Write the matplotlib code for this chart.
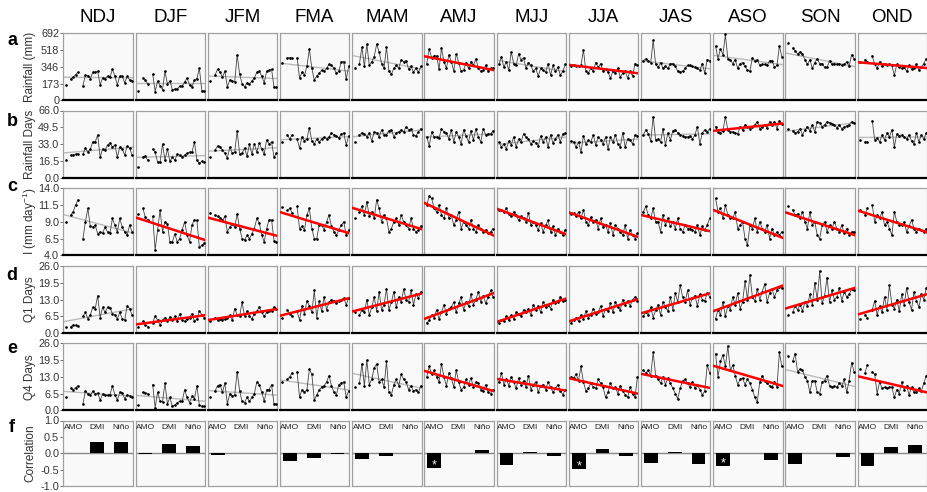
import numpy as np
import matplotlib.pyplot as plt

plt.rcParams['font.family'] = ['Liberation Sans', 'DejaVu Sans']
plt.rcParams['mathtext.fontset'] = 'custom'
plt.rcParams['mathtext.rm'] = 'Liberation Sans'
plt.rcParams['mathtext.it'] = 'Liberation Sans:italic'

seasons = ['NDJ', 'DJF', 'JFM', 'FMA', 'MAM', 'AMJ', 'MJJ', 'JJA', 'JAS', 'ASO', 'SON', 'OND']
first_year = 1985

# a: seasonal rainfall (mm)
rain_mm = [
    [160, None, 215, 240, 265, 290, None, 150, 260, 255, 225, 290, 290, 300, 160, 230, 225, 250, 240, 320, 250, 160, 250, 250, 180, 250, 210, 200],
    [100, None, 230, 210, 170, None, 270, 90, 200, 150, 110, 300, 170, 200, 110, 115, 120, 145, 145, 190, 230, 160, 140, 210, 225, 330, 100, 95],
    [200, None, 260, 320, 290, 240, 300, 140, 210, 200, 190, 470, 270, 170, 140, 180, 170, 200, 230, 290, 300, 250, 180, 300, 310, 320, 135, 140],
    [385, None, 440, 440, 435, None, 440, 230, 290, 260, 350, 530, 330, 210, 250, 280, 310, 300, 330, 370, 360, 330, 280, 300, 400, 400, 220, 350],
    [330, None, 380, 550, 350, 580, 360, 400, 450, 580, 500, 380, 330, 550, 300, 270, 330, 360, 330, 420, 400, 410, 320, 350, 290, 330, 290, 350],
    [380, 530, 440, 460, 460, 320, 540, 400, 330, 470, 400, 300, 480, 390, 300, 310, 390, 330, 400, 360, 430, 330, 300, 310, 360, 300, 330, 330],
    [370, 450, 340, 400, 310, 500, 380, 360, 480, 420, 440, 330, 390, 360, 300, 330, 250, 330, 310, 290, 380, 260, 360, 300, 340, 260, 300, 370],
    [350, 360, 350, 350, 360, 520, 300, 280, 330, 300, 390, 340, 380, 300, 320, 290, 230, 300, 280, 330, 240, 280, 300, 230, 300, 250, 380, 360],
    [410, 430, 410, 390, 620, 370, 340, 390, 330, 350, 330, 380, 380, 350, 300, 290, 300, 330, 360, 360, 350, 340, 330, 310, 380, 280, 420, 410],
    [560, 430, 530, 470, 680, 430, 420, 380, 420, 330, 380, 390, 350, 310, 300, 440, 410, 420, 360, 370, 370, 360, 410, 410, 340, 360, 560, 450],
    [590, None, 540, 510, 480, 500, 480, 420, 370, 420, 330, 390, 430, 380, 380, 340, 340, 410, 370, 380, 370, 380, 360, 370, 400, 350, 470, 430],
    [400, None, 420, 400, None, 460, 370, 330, 400, 350, 380, 360, 370, 360, 260, 370, 340, 330, 340, 300, 360, 320, 330, 370, 310, 340, 380, 430],
]

# b: rainfall days
rain_days = [
    [17, None, 22, 22, 23, 23, None, 23, 29, 25, 28, 35, 35, 42, 20, 28, 27, 32, 34, 30, 32, 20, 30, 28, 22, 31, 29, 22],
    [10, None, 20, 21, 17, None, 28, 25, 15, 15, 33, 17, 28, 16, 20, 17, 23, 22, 20, 22, 24, 25, 25, 35, 17, 14, 16, 15],
    [20, None, 27, 31, 30, 27, 24, 19, 30, 24, 25, 46, 23, 24, 29, 21, 33, 23, 33, 25, 34, 28, 23, 37, 33, 35, 20, 24],
    [35, None, 42, 38, 42, None, 38, 29, 40, 36, 38, 49, 36, 33, 38, 35, 38, 40, 38, 40, 44, 42, 41, 39, 43, 44, 32, 41],
    [35, None, 42, 44, 43, 40, 44, 36, 45, 44, 40, 47, 42, 42, 46, 47, 40, 44, 45, 47, 45, 50, 47, 48, 42, 41, 45, 48],
    [40, 31, 45, 40, 40, 39, 48, 45, 44, 38, 47, 35, 45, 40, 33, 47, 41, 35, 46, 37, 48, 40, 35, 48, 42, 43, 43, 46],
    [35, 30, 33, 28, 36, 32, 40, 30, 38, 35, 43, 40, 38, 33, 36, 34, 31, 41, 35, 40, 30, 42, 34, 38, 42, 35, 43, 44],
    [36, 35, 30, 35, 25, 41, 33, 37, 35, 42, 32, 40, 37, 33, 40, 28, 40, 35, 42, 33, 30, 44, 30, 38, 37, 33, 42, 41],
    [42, 47, 43, 36, 60, 37, 38, 35, 48, 32, 44, 37, 46, 47, 44, 42, 41, 40, 40, 41, 38, 42, 50, 33, 44, 47, 45, 48],
    [50, 45, 44, 46, 60, 47, 45, 45, 44, 43, 50, 47, 52, 50, 48, 50, 52, 55, 48, 50, 52, 49, 55, 52, 55, 48, 56, 53],
    [48, None, 46, 44, 45, 48, 42, 47, 50, 46, 52, 45, 55, 54, 50, 52, 55, 54, 53, 52, 49, 52, 48, 50, 51, 52, 55, 54],
    [37, None, 35, 35, None, 56, 37, 39, 35, 42, 37, 44, 40, 47, 30, 43, 41, 42, 40, 38, 42, 36, 33, 44, 35, 42, 38, 44],
]

# c: rainfall intensity (mm/day)
intensity = [
    [9.0, None, 10.0, 10.5, 11.5, 12.3, None, 6.5, 9.0, 11.0, 8.3, 8.2, 8.5, 7.2, 7.5, 7.3, 8.2, 7.5, 7.3, 9.5, 8.5, 7.5, 9.5, 8.2, 7.5, 7.0, 8.5, 7.5],
    [10.2, None, 11.0, 9.7, 9.3, None, 9.8, 4.8, 7.8, 10.7, 7.5, 9.0, 8.7, 6.0, 6.0, 7.2, 6.0, 6.5, 7.8, 9.0, 7.0, 6.0, 8.5, 9.3, 9.2, 5.2, 5.5, 5.8],
    [10.3, None, 10.0, 9.8, 9.5, 9.2, 9.8, 7.5, 8.2, 8.7, 8.2, 10.2, 8.0, 6.5, 6.3, 7.0, 6.5, 7.2, 8.0, 9.5, 8.8, 7.0, 6.0, 8.0, 9.3, 9.3, 6.2, 6.0],
    [11.2, None, 10.7, 11.0, 10.3, None, 11.3, 8.0, 8.3, 7.8, 10.0, 11.0, 8.0, 6.5, 6.5, 8.5, 8.5, 7.8, 9.0, 10.0, 8.3, 7.5, 7.0, 7.8, 8.5, 9.0, 7.0, 7.8],
    [9.5, None, 10.5, 11.3, 10.0, 12.0, 9.8, 10.5, 9.5, 12.3, 11.0, 9.0, 10.0, 9.5, 7.5, 8.0, 9.0, 9.5, 8.5, 10.0, 9.0, 8.5, 8.0, 9.5, 8.0, 7.5, 7.8, 8.3],
    [11.5, 12.8, 12.5, 11.0, 10.5, 11.5, 10.0, 9.5, 11.0, 9.5, 10.0, 8.5, 9.3, 10.5, 8.0, 9.0, 8.5, 8.0, 9.3, 8.0, 7.5, 8.5, 8.0, 7.5, 7.8, 7.3, 7.5, 8.0],
    [10.7, 10.8, 10.5, 11.0, 10.2, 9.8, 10.5, 10.0, 9.2, 9.8, 9.5, 9.0, 10.3, 8.5, 9.0, 8.5, 7.8, 8.8, 7.5, 8.5, 9.2, 7.5, 8.3, 7.0, 8.0, 7.5, 7.0, 7.8],
    [10.2, 10.3, 9.8, 10.5, 9.5, 10.8, 9.0, 8.5, 9.7, 9.0, 9.3, 8.0, 9.5, 8.2, 8.5, 7.5, 8.8, 7.0, 8.5, 8.0, 7.5, 7.0, 8.5, 6.5, 7.8, 7.0, 6.5, 7.3],
    [10.5, 11.3, 10.0, 9.5, 11.0, 9.0, 9.0, 7.5, 10.0, 8.5, 9.5, 8.3, 9.0, 8.0, 9.5, 8.0, 7.5, 8.5, 8.0, 8.0, 7.8, 7.5, 8.5, 7.0, 8.3, 7.8, 8.5, 9.5],
    [12.5, 10.5, 11.0, 9.5, 11.5, 10.0, 9.5, 9.5, 10.5, 8.0, 8.5, 9.0, 6.5, 5.5, 8.5, 8.0, 9.5, 7.5, 9.0, 8.0, 7.5, 8.5, 6.5, 8.0, 7.0, 7.5, 7.0, 7.5],
    [11.3, None, 10.8, 10.0, 10.2, 9.5, 10.5, 9.0, 8.0, 10.5, 8.5, 9.0, 7.0, 6.5, 8.5, 9.0, 7.5, 8.5, 8.0, 9.0, 8.0, 7.5, 8.5, 7.3, 8.0, 7.0, 7.5, 7.5],
    [10.7, None, 10.0, 11.0, None, 11.5, 9.0, 10.0, 9.5, 10.5, 8.5, 9.0, 8.0, 7.0, 10.5, 9.0, 8.5, 8.5, 9.0, 7.5, 8.3, 9.3, 8.0, 7.5, 8.0, 7.8, 7.5, 8.0],
]

# d: Q1 days
q1_days = [
    [2.5, None, 2.5, 3.0, 3.0, 2.7, None, 6.5, 8.0, 5.5, 7.0, 10.0, 9.5, 14.5, 6.0, 10.0, 8.0, 10.0, 9.8, 7.5, 7.0, 5.5, 8.0, 5.5, 5.0, 10.5, 9.5, 7.0],
    [2.5, None, 4.5, 3.2, 2.5, None, 4.0, 6.5, 5.0, 3.0, 5.0, 6.0, 4.5, 6.3, 5.0, 6.5, 4.5, 7.5, 5.0, 4.5, 5.5, 6.0, 7.5, 4.5, 5.5, 8.5, 7.0, 6.0],
    [4.5, None, 6.0, 5.0, 5.5, 5.0, 5.5, 6.0, 7.0, 5.0, 9.5, 7.0, 6.5, 12.0, 6.5, 8.5, 6.5, 5.5, 7.5, 8.5, 10.0, 8.0, 6.5, 8.0, 8.5, 8.5, 10.0, 9.5],
    [6.0, None, 9.0, 7.5, 6.5, None, 8.5, 5.0, 10.5, 7.5, 12.5, 10.5, 8.0, 16.5, 6.0, 12.5, 8.5, 14.0, 9.0, 12.0, 13.0, 12.5, 11.5, 12.5, 13.0, 13.5, 11.0, 13.5],
    [8.0, None, 7.0, 9.0, 8.0, 13.0, 7.0, 10.0, 14.0, 8.5, 16.0, 9.0, 11.0, 17.0, 9.0, 12.0, 16.0, 10.0, 14.0, 12.0, 17.0, 13.0, 12.0, 16.5, 11.0, 15.0, 13.5, 16.0],
    [4.0, 5.0, 7.0, 6.0, 9.0, 5.5, 8.0, 11.0, 7.5, 9.5, 10.0, 12.0, 8.0, 11.5, 14.0, 9.0, 12.0, 10.5, 15.0, 11.0, 13.0, 16.0, 12.0, 14.5, 11.5, 14.0, 16.5, 14.0],
    [4.0, 5.0, 4.5, 6.5, 5.0, 7.0, 5.5, 8.0, 7.5, 6.5, 9.0, 8.0, 9.5, 7.0, 11.0, 9.0, 10.5, 8.0, 12.0, 10.0, 11.0, 9.5, 13.0, 11.5, 12.0, 14.0, 12.5, 13.0],
    [4.0, 5.0, 6.0, 4.5, 7.0, 5.5, 8.5, 6.0, 7.0, 9.5, 7.5, 8.0, 10.5, 6.5, 9.5, 8.5, 11.5, 8.0, 12.0, 10.0, 9.0, 13.0, 11.0, 12.5, 10.5, 13.0, 14.0, 12.5],
    [6.5, 8.0, 7.0, 10.0, 6.0, 9.0, 11.0, 7.0, 12.0, 10.0, 8.5, 14.0, 9.0, 15.5, 12.0, 18.5, 14.0, 12.0, 16.5, 11.0, 13.5, 14.5, 10.5, 15.0, 13.0, 12.5, 15.5, 14.0],
    [5.5, 9.0, 7.0, 12.0, 6.5, 10.5, 9.0, 14.0, 11.0, 15.5, 9.5, 12.0, 20.0, 13.0, 22.5, 14.0, 12.5, 17.0, 13.0, 16.0, 19.0, 12.0, 15.5, 17.0, 14.0, 16.5, 18.0, 17.5],
    [7.0, None, 8.0, 10.5, 9.0, 11.0, 8.5, 12.0, 10.5, 15.0, 11.0, 19.5, 13.0, 24.0, 11.5, 14.5, 21.5, 12.0, 16.5, 13.0, 14.0, 17.5, 12.5, 16.0, 14.0, 15.0, 17.0, 16.5],
    [5.5, None, 7.0, 6.0, None, 9.0, 12.5, 7.0, 10.5, 8.0, 14.0, 9.0, 18.5, 11.0, 9.5, 13.0, 8.5, 15.0, 11.0, 17.5, 12.0, 9.0, 16.0, 12.5, 10.0, 15.0, 13.0, 17.5],
]

# e: Q4 days
q4_days = [
    [5.0, None, 8.5, 8.0, 8.8, 9.5, None, 2.5, 7.5, 6.3, 6.0, 7.3, 6.5, 6.7, 4.0, 6.2, 5.8, 5.8, 6.0, 9.5, 6.0, 4.0, 7.0, 6.8, 4.5, 6.0, 5.5, 5.0],
    [2.0, None, 7.0, 6.8, 6.5, None, 10.0, 1.0, 7.0, 3.5, 3.3, 10.5, 2.5, 5.0, 1.5, 2.0, 3.0, 3.5, 3.5, 8.0, 5.0, 3.0, 5.5, 4.5, 9.5, 2.0, 1.5, 1.5],
    [5.0, None, 7.5, 9.5, 10.0, 7.0, 10.5, 2.5, 6.5, 5.5, 6.0, 15.0, 7.5, 3.5, 3.0, 5.0, 3.5, 5.0, 6.5, 11.0, 10.0, 7.0, 3.5, 8.0, 8.0, 10.0, 2.5, 2.5],
    [11.0, None, 12.0, 13.0, 14.5, None, 15.0, 5.0, 8.0, 7.0, 8.0, 16.0, 14.0, 4.0, 6.0, 8.0, 9.0, 9.5, 11.0, 13.5, 9.5, 7.0, 6.0, 10.0, 10.5, 11.0, 5.0, 7.5],
    [9.0, None, 10.5, 18.0, 9.5, 19.5, 10.0, 12.0, 16.5, 18.0, 11.0, 12.0, 9.0, 19.0, 7.0, 6.0, 10.0, 12.0, 9.5, 14.0, 12.0, 11.0, 8.0, 9.5, 7.5, 8.0, 7.0, 9.5],
    [13.0, 17.0, 14.0, 15.5, 13.0, 11.0, 18.0, 13.0, 9.5, 14.5, 12.5, 9.0, 15.5, 11.0, 8.0, 9.0, 12.0, 10.0, 12.5, 9.0, 11.0, 10.5, 8.0, 7.5, 10.0, 7.0, 6.5, 8.0],
    [11.0, 14.5, 10.0, 12.0, 9.5, 13.0, 11.0, 8.5, 12.5, 10.0, 11.5, 9.0, 13.5, 8.0, 10.0, 11.0, 7.0, 9.5, 10.0, 8.0, 11.0, 9.0, 7.0, 8.5, 10.0, 7.5, 6.0, 8.0],
    [13.0, 12.5, 14.0, 11.5, 17.0, 11.0, 7.5, 8.5, 10.5, 9.0, 8.5, 12.0, 10.5, 9.0, 5.0, 7.0, 10.5, 8.5, 9.0, 6.5, 9.5, 7.5, 6.0, 5.0, 9.0, 6.5, 5.0, 13.0],
    [15.5, 14.5, 15.5, 13.5, 22.5, 13.5, 12.0, 10.5, 13.0, 10.0, 12.5, 10.5, 8.5, 6.5, 4.5, 8.5, 11.5, 12.0, 10.5, 9.0, 11.0, 8.5, 10.0, 8.0, 6.0, 7.5, 17.5, 14.5],
    [22.0, 13.0, 19.0, 21.5, 17.0, 25.0, 15.5, 17.5, 13.5, 10.0, 12.0, 12.5, 10.0, 12.0, 10.5, 8.0, 5.0, 3.3, 11.0, 13.5, 11.5, 10.5, 9.5, 9.0, 11.0, 9.0, 22.5, 17.0],
    [21.0, None, 19.0, 22.0, 15.0, 16.0, 15.5, 13.0, 11.5, 7.0, 11.5, 11.5, 7.0, 6.5, 11.0, 11.5, 13.5, 9.5, 9.0, 9.5, 9.0, 10.5, 9.5, 12.0, 7.0, 11.5, 18.5, 15.0],
    [16.0, None, 14.5, 17.5, None, 15.0, 14.0, 6.5, 11.0, 8.5, 9.0, 8.5, 9.0, 9.0, 5.0, 8.0, 6.5, 11.0, 8.0, 9.5, 6.0, 9.0, 7.0, 7.0, 8.5, 7.5, 10.5, 13.5],
]

# seasons whose linear trend is significant (drawn red)
sig_rain_mm = ['AMJ', 'JJA', 'OND']
sig_rain_days = ['ASO']
sig_intensity = seasons[1:]
sig_q1 = seasons[1:]
sig_q4 = ['AMJ', 'MJJ', 'JJA', 'JAS', 'ASO', 'OND']

# f: correlation with climate indices
indices = ['AMO', 'DMI', 'Niño']
corr_amo = [0.02, -0.02, -0.05, -0.24, -0.18, -0.45, -0.36, -0.47, -0.30, -0.39, -0.34, -0.39]
corr_dmi = [0.33, 0.28, 0.01, -0.14, -0.08, 0.01, 0.05, 0.14, 0.03, 0.01, 0.01, 0.20]
corr_nino = [0.34, 0.21, 0.01, -0.02, 0.01, 0.10, -0.08, -0.09, -0.32, -0.22, -0.12, 0.26]
amo_star = ['AMJ', 'JJA', 'ASO']

rows = [
    (rain_mm, sig_rain_mm, (0, 692), [0, 173, 346, 518, 692], ['0', '173', '346', '518', '692'], 'Rainfall (mm)'),
    (rain_days, sig_rain_days, (0, 66), [0, 16.5, 33, 49.5, 66], ['0.0', '16.5', '33.0', '49.5', '66.0'], 'Rainfall Days'),
    (intensity, sig_intensity, (4, 14), [4, 6.5, 9, 11.5, 14], ['4.0', '6.5', '9.0', '11.5', '14.0'], r'I (mm day$^{-1}$)'),
    (q1_days, sig_q1, (0, 26), [0, 6.5, 13, 19.5, 26], ['0.0', '6.5', '13.0', '19.5', '26.0'], 'Q1 Days'),
    (q4_days, sig_q4, (0, 26), [0, 6.5, 13, 19.5, 26], ['0.0', '6.5', '13.0', '19.5', '26.0'], 'Q4 Days'),
]
corr_ticks = [-1, -0.5, 0, 0.5, 1]
corr_labels = ['-1.0', '-0.5', '0.0', '0.5', '1.0']

W, H = 927, 492
fig = plt.figure(figsize=(W / 100, H / 100), dpi=100)
x0, pitch, pw = 63.3, 72.2, 69.5
tops = [33.3, 110.5, 188.3, 266, 343.3, 420.5]
heights = [67, 67, 67, 67, 67, 65.5]
letter_base = [45, 126, 191, 280, 353, 432]

def add_ax(r, c):
    return fig.add_axes([(x0 + c * pitch) / W, 1 - (tops[r] + heights[r]) / H,
                         pw / W, heights[r] / H])

def style(ax, c, ticks, labels, black_bottom=True):
    ax.set_facecolor('#f9f9f9')
    for s in ax.spines.values():
        s.set_color('#a0a0a0')
        s.set_linewidth(0.9)
    if black_bottom:
        ax.spines['bottom'].set_color('black')
        ax.spines['bottom'].set_linewidth(1.6)
    ax.set_xticks([])
    if c == 0:
        ax.set_yticks(ticks)
        ax.set_yticklabels(labels, fontsize=7.8, color='#333333')
        ax.tick_params(axis='y', length=2, width=0.6, pad=1, color='#555555')
    else:
        ax.set_yticks([])

xmin, xmax = first_year - 1, first_year + 27.3
for r, (data, sig, ylim, ticks, labels, ylab) in enumerate(rows):
    for c, name in enumerate(seasons):
        ax = add_ax(r, c)
        y = np.array([np.nan if v is None else v for v in data[c]], dtype=float)
        x = first_year + np.arange(len(y))
        ok = ~np.isnan(y)
        k, b = np.polyfit(x[ok], y[ok], 1)
        xl = np.array([xmin, xmax])
        if name in sig:
            ax.plot(xl, k * xl + b, color='red', lw=1.8, zorder=4)
        else:
            ax.plot(xl, k * xl + b, color='#bbbbbb', lw=1.0, zorder=1)
        ax.plot(x, y, color='#444444', lw=0.6, zorder=2)
        ax.plot(x, y, 'o', ms=0.9, color='black', zorder=3)
        ax.set_xlim(xmin, xmax)
        ax.set_ylim(*ylim)
        style(ax, c, ticks, labels)
    fig.text(30 / W, 1 - (tops[r] + heights[r] / 2) / H, ylab, rotation=90,
             ha='center', va='center', fontsize=8.5, color='#333333')

# correlation row
for c, name in enumerate(seasons):
    ax = add_ax(5, c)
    vals = [corr_amo[c], corr_dmi[c], corr_nino[c]]
    ax.axhline(0, color='#888888', lw=1, zorder=1)
    ax.bar(range(3), vals, width=0.58, color='black', zorder=2)
    for i, lab in enumerate(indices):
        ax.text(i, 0.8, lab, ha='center', va='center', fontsize=6.0, color='#222222')
    if name in amo_star:
        ax.text(0, corr_amo[c] + 0.08, '*', ha='center', va='center', fontsize=9,
                color='white', zorder=3)
    ax.set_xlim(-0.42, 2.5)
    ax.set_ylim(-1, 1)
    style(ax, c, corr_ticks, corr_labels, black_bottom=False)
fig.text(30 / W, 1 - (tops[5] + heights[5] / 2) / H, 'Correlation', rotation=90,
         ha='center', va='center', fontsize=8.5, color='#333333')

for c, name in enumerate(seasons):
    fig.text((x0 + c * pitch + pw / 2) / W, 1 - 18 / H, name, ha='center', va='center', fontsize=13.5)

for r, letter in enumerate('abcdef'):
    fig.text(12 / W, 1 - letter_base[r] / H, letter, ha='center', va='baseline',
             fontsize=13, fontweight='bold')

fig.savefig('out.png', dpi=100)
